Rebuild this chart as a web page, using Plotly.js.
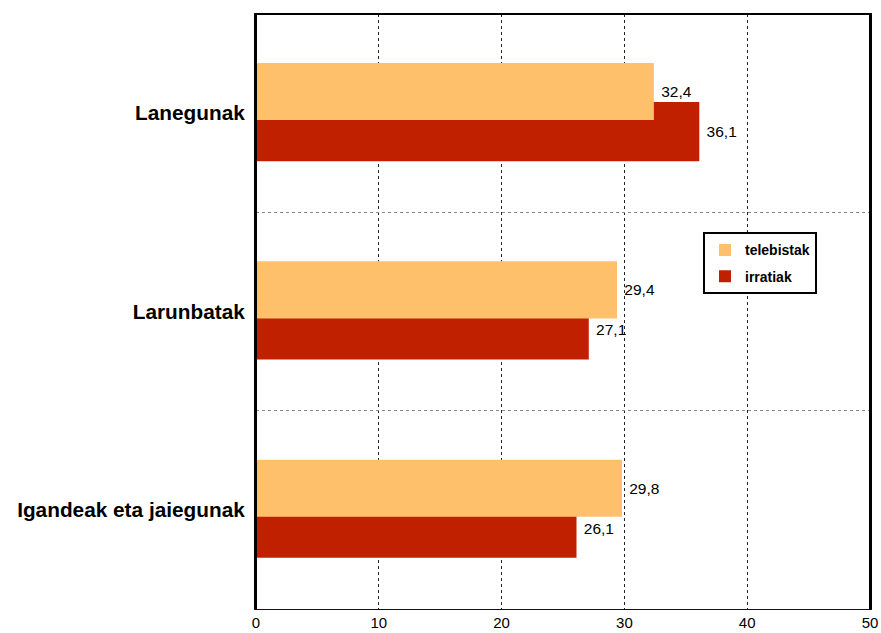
<!DOCTYPE html>
<html>
<head>
<meta charset="utf-8">
<script src="https://cdn.plot.ly/plotly-3.0.1.min.js"></script>
<style>html,body{margin:0;padding:0;background:#fff;}</style>
</head>
<body>
<div id="chart" style="width:881px;height:633px;"></div>
<script>
var categories = ["Lanegunak", "Larunbatak", "Igandeak eta jaiegunak"];
var seriesNames = ["telebistak", "irratiak"];
var telebistak = [32.4, 29.4, 29.8];
var irratiak = [36.1, 27.1, 26.1];
var xTicks = [0, 10, 20, 30, 40, 50];

var labelFont = {family: "Liberation Sans, Arial, sans-serif", size: 15.5, color: "#000"};

var traceRed = {
  type: "bar", orientation: "h", name: seriesNames[1],
  y: categories, x: irratiak,
  offset: -0.056, width: 0.298,
  marker: {color: "#C02000", line: {width: 0}},
  texttemplate: "\u00a0%{x:.1f}", textposition: "outside",
  textfont: labelFont, cliponaxis: false, legendrank: 2, legendgroup: "b"
};
var traceOrange = {
  type: "bar", orientation: "h", name: seriesNames[0],
  y: categories, x: telebistak,
  offset: -0.253, width: 0.288,
  marker: {color: "#FFC06C", line: {width: 0}},
  texttemplate: "\u00a0%{x:.1f}", textposition: "outside",
  textfont: labelFont, cliponaxis: false, legendrank: 1, legendgroup: "a"
};

var layout = {
  width: 881, height: 633,
  margin: {l: 256, r: 11, t: 14, b: 24, pad: 0},
  paper_bgcolor: "#fff", plot_bgcolor: "#fff",
  barmode: "overlay",
  separators: ",.",
  showlegend: true,
  font: {family: "Liberation Sans, Arial, sans-serif", color: "#000"},
  xaxis: {
    range: [0, 50], tickvals: xTicks, ticktext: xTicks.map(String),
    showgrid: true, gridcolor: "#222", griddash: "3px,3px", gridwidth: 1,
    zeroline: false, showline: true, linecolor: "#111", linewidth: 1, mirror: true,
    ticks: "", ticklabelstandoff: 0,
    tickfont: {size: 15, color: "#000"}, fixedrange: true
  },
  yaxis: {
    type: "category", autorange: "reversed",
    tickson: "boundaries",
    showgrid: true, gridcolor: "#888", griddash: "dot", gridwidth: 1,
    showline: true, linecolor: "#000", linewidth: 2, mirror: true,
    ticks: "", ticklabelstandoff: 5,
    tickfont: {size: 20.8, color: "#000", weight: "bold"}, fixedrange: true
  },
  legend: {
    x: 0.728, y: 0.633, xanchor: "left", yanchor: "top",
    bgcolor: "#fff", bordercolor: "#000", borderwidth: 2,
    font: {size: 14, color: "#000", weight: "bold"}, itemwidth: 30,
    tracegroupgap: 5
  },
  shapes: [
    {type: "line", xref: "paper", yref: "paper", x0: 0, x1: 0, y0: 0, y1: 1, line: {color: "#000", width: 2}},
    {type: "line", xref: "paper", yref: "paper", x0: 0, x1: 1, y0: 1, y1: 1, line: {color: "#000", width: 2}},
    {type: "line", xref: "paper", yref: "paper", x0: 1, x1: 1, y0: 0, y1: 1, line: {color: "#000", width: 2}}
  ]
};

Plotly.newPlot("chart", [traceRed, traceOrange], layout, {displayModeBar: false, staticPlot: true});
</script>
</body>
</html>
